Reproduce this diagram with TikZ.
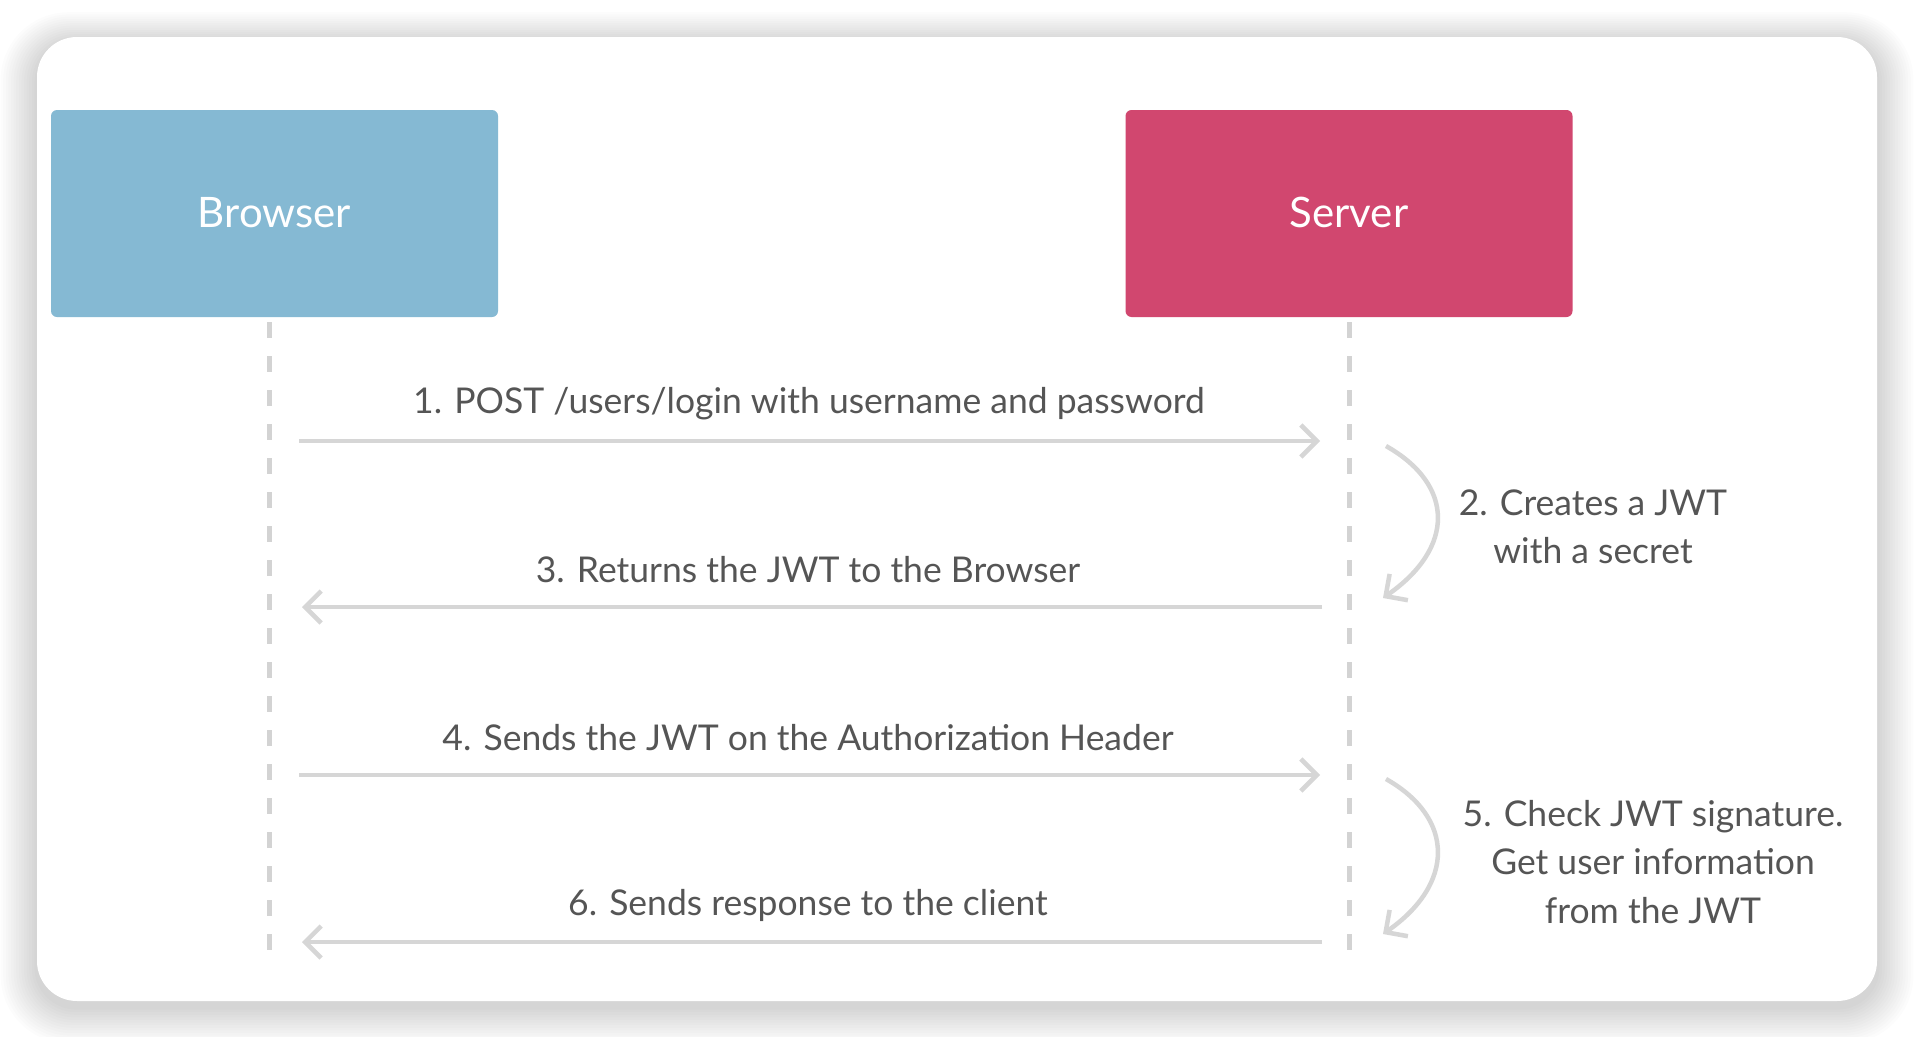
\documentclass[tikz,border=0pt]{standalone}
\usepackage{fontspec}
\setmainfont{Lato}
\usetikzlibrary{arrows.meta}
\definecolor{browserblue}{HTML}{85B9D3}
\definecolor{serverpink}{HTML}{D1476F}
\definecolor{lifegray}{HTML}{D3D3D3}
\definecolor{arrowgray}{HTML}{D6D6D6}
\definecolor{labelgray}{HTML}{555555}
\tikzset{
  actor/.style={rounded corners=6pt, minimum width=447pt, minimum height=207pt,
    text=white, font=\fontsize{42}{50}\selectfont, inner sep=0pt},
  lifeline/.style={line width=5pt, draw=lifegray, dash pattern=on 16pt off 18pt},
  msg/.style={line width=4.5pt, draw=arrowgray,
    -{Straight Barb[length=16pt,width=32pt]}},
  selfmsg/.style={line width=4.5pt, draw=arrowgray,
    -{Straight Barb[length=16pt,width=32pt]}},
  lbl/.style={text=labelgray, font=\fontsize{35.5}{48.5}\selectfont, inner sep=0pt, align=center}
}
\begin{document}
\begin{tikzpicture}[x=1pt,y=-1pt]
\useasboundingbox (0,0) rectangle (1914,1036);
\fill[white] (0,0) rectangle (1914,1036);
% card shadow
\foreach \i in {1,...,14}{
  \fill[black, opacity=0.013, rounded corners=40pt+\i*2pt]
    (37-\i*2.6, 37-\i*2.2+6) rectangle (1877+\i*2.6, 1001+\i*2.6+6);
}
\fill[white, rounded corners=40pt] (37,37) rectangle (1877,1001);

% actors
\node[actor, fill=browserblue] (browser) at (274.5,213.5) {\raisebox{2pt}{Browser}};
\node[actor, fill=serverpink] (server) at (1349,213.5) {\raisebox{2pt}{Server}};

% lifelines
\coordinate (bTop) at (269,322);
\coordinate (bBot) at (269,950);
\coordinate (sTop) at (1349,322);
\coordinate (sBot) at (1349,950);
\draw[lifeline] (bTop) -- (bBot);
\draw[lifeline] (sTop) -- (sBot);

% message end points
\coordinate (m1a) at (299,441);  \coordinate (m1b) at (1320,441);
\coordinate (m3a) at (1322,607); \coordinate (m3b) at (302,607);
\coordinate (m4a) at (299,775);  \coordinate (m4b) at (1320,775);
\coordinate (m6a) at (1322,942); \coordinate (m6b) at (302,942);

\draw[msg] (m1a) -- (m1b);
\draw[msg] (m3a) -- (m3b);
\draw[msg] (m4a) -- (m4b);
\draw[msg] (m6a) -- (m6b);

\node[lbl] (l1) at (809,404) {1. POST /users/login with username and password};
\node[lbl] (l3) at (808,570) {3. Returns the JWT to the Browser};
\node[lbl] (l4) at (808,738) {4. Sends the JWT on the Authorization Header};
\node[lbl] (l6) at (808,905) {6. Sends response to the client};

% self processing arrows
\coordinate (c2a) at (1386,446); \coordinate (c2b) at (1383,598);
\coordinate (c5a) at (1386,779); \coordinate (c5b) at (1383,934);
\draw[selfmsg] (c2a) .. controls (1455,485) and (1455,548) .. (c2b);
\draw[selfmsg] (c5a) .. controls (1455,818) and (1455,884) .. (c5b);

\node[lbl] (l2) at (1593,527) {2. Creates a JWT\\with a secret};
\node[lbl] (l5) at (1653,862) {5. Check JWT signature.\\Get user information\\from the JWT};
\end{tikzpicture}
\end{document}
